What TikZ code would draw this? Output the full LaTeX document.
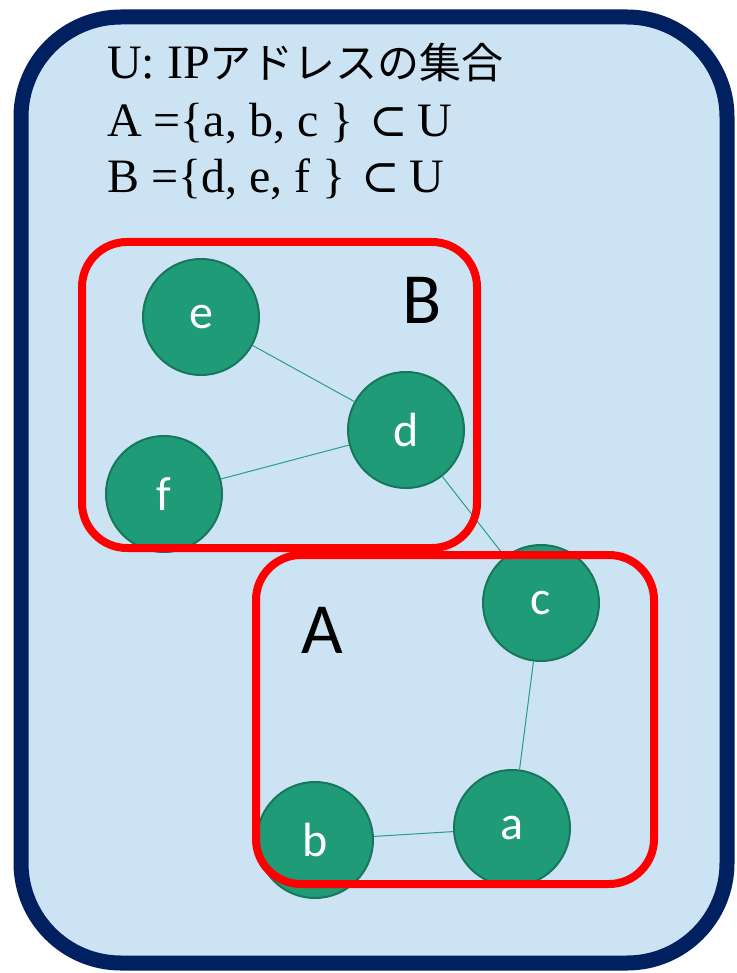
\documentclass[tikz,border=0pt]{standalone}
\usepackage{fontspec}
\setmainfont{Liberation Serif}
\newfontfamily\cjk{Noto Sans CJK JP}
\newfontfamily\symf{DejaVu Serif}
\newfontfamily\lbl{Carlito}
\definecolor{navy}{HTML}{002060}
\definecolor{ublue}{HTML}{CCE3F4}
\definecolor{nodefill}{HTML}{1F9B78}
\definecolor{nodeedge}{HTML}{17775C}
\definecolor{edgecol}{HTML}{2A9E80}
\definecolor{frame}{HTML}{FF0000}
\tikzset{
  host/.style={circle, minimum size=116pt, inner sep=0pt, fill=nodefill, draw=nodeedge, line width=2pt, text=white, font=\lbl\fontsize{48}{48}\selectfont},
  link/.style={draw=edgecol, line width=1pt},
  setframe/.style={draw=frame, line width=8pt, rounded corners=45pt},
  setname/.style={font=\lbl\fontsize{72}{72}\selectfont, text=black},
  txt/.style={anchor=base west, inner sep=0pt, font=\fontsize{48}{48}\selectfont}
}
\newcommand{\subs}{{\symf\fontsize{46}{46}\selectfont ⊂}}
\begin{document}
\begin{tikzpicture}[x=1pt,y=-1pt]
\useasboundingbox (0,0) rectangle (736,973);
\fill[white] (0,0) rectangle (736,973);
\draw[line width=15pt, draw=navy, fill=ublue, rounded corners=100pt] (21,17) rectangle (727,963);

\node[txt] (t1) at (107,79) {U: IP{\cjk\fontsize{42}{42}\selectfont アドレスの集合}};
\node[txt] (t2) at (107,137) {A =\{a, b, c \}\hspace{16pt}\subs\hspace{9pt}U};
\node[txt] (t3) at (107,193) {B =\{d, e, f \}\hspace{16pt}\subs\hspace{9pt}U};

\node[host] (e) at (201,317) {e};
\node[host] (d) at (406,430) {d};
\node[host] (f) at (164,494) {f};
\node[host] (c) at (541,603) {c};
\node[host] (a) at (512,828) {a};
\node[host] (b) at (315,840) {b};

\draw[link] (e) -- (d);
\draw[link] (f) -- (d);
\draw[link] (d) -- (c);
\draw[link] (c) -- (a);
\draw[link] (a) -- (b);

\node[setname] (lB) at (422,300) {B};
\node[setname] (lA) at (322,630) {A};

\draw[setframe] (82,242) rectangle (477,548);
\draw[setframe] (256,555) rectangle (654,884);
\end{tikzpicture}
\end{document}
